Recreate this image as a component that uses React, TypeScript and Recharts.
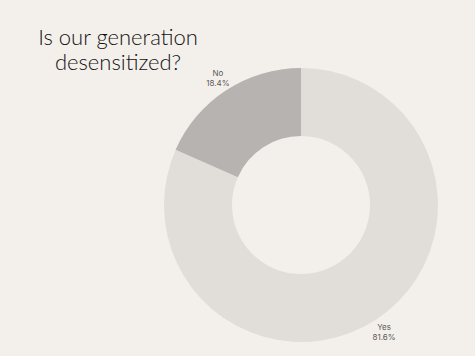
import React from "react";
import { PieChart, Pie, Cell } from "recharts";

const categories = ["Yes", "No"];
const values = [81.6, 18.4];
const colors = ["#e1deda", "#b6b3b0"];

const data = categories.map((name, i) => ({ name, value: values[i] }));

const RAD = Math.PI / 180;

const renderLabel = (props: any) => {
  const { cx, cy, midAngle, outerRadius, name, value } = props;
  const r = outerRadius + 15;
  const x = cx + r * Math.cos(-midAngle * RAD);
  const y = cy + r * Math.sin(-midAngle * RAD);
  return (
    <text
      x={x}
      y={y}
      textAnchor="middle"
      fill="#5a5856"
      fontSize={8}
      fontFamily="Inter, 'Noto Sans', sans-serif"
    >
      <tspan x={x} dy={-2}>{name}</tspan>
      <tspan x={x} dy={10}>{`${value}%`}</tspan>
    </text>
  );
};

export default function App() {
  return (
    <div
      style={{
        position: "fixed",
        left: 0,
        top: 0,
        width: 475,
        height: 356,
        background: "#f3f0ec",
        overflow: "hidden",
      }}
    >
      <div
        style={{
          position: "absolute",
          left: 18,
          top: 24,
          width: 200,
          textAlign: "center",
          fontFamily: "Lato, 'Noto Sans', sans-serif",
          fontWeight: 300,
          fontSize: 22,
          lineHeight: "25px",
          color: "#141211",
        }}
      >
        Is our generation
        <br />
        desensitized?
      </div>
      <PieChart width={475} height={356} margin={{ top: 0, right: 0, bottom: 0, left: 0 }}>
        <Pie
          data={data}
          dataKey="value"
          nameKey="name"
          cx={301}
          cy={205}
          innerRadius={69}
          outerRadius={137}
          startAngle={90}
          endAngle={-270}
          stroke="none"
          label={renderLabel}
          labelLine={false}
          isAnimationActive={false}
        >
          {data.map((d, i) => (
            <Cell key={d.name} fill={colors[i]} />
          ))}
        </Pie>
      </PieChart>
    </div>
  );
}
